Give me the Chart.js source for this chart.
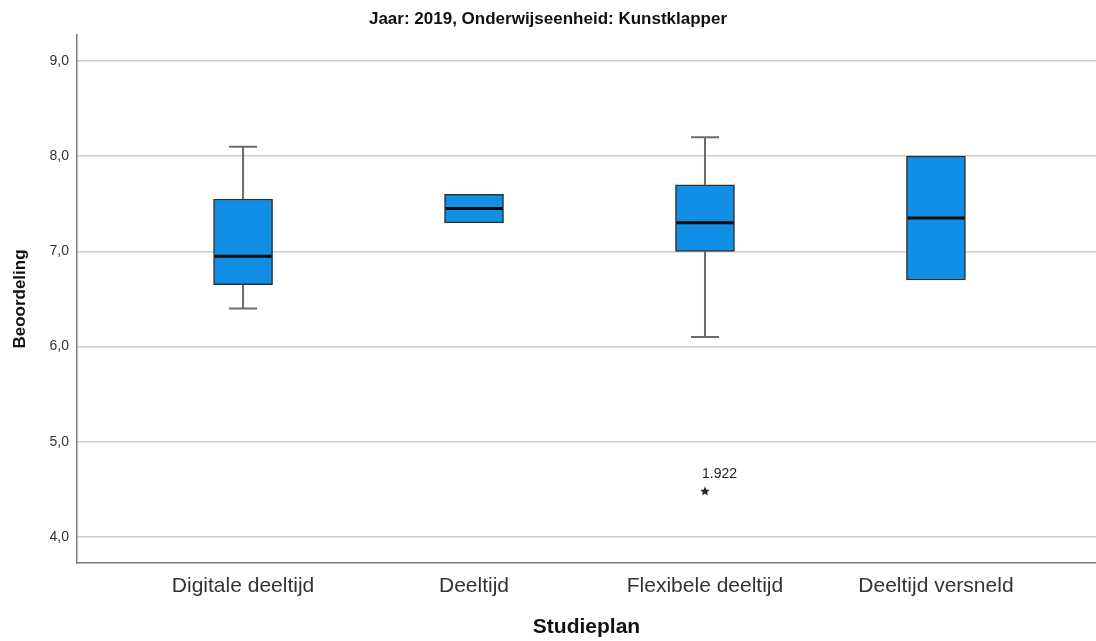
<!DOCTYPE html>
<html>
<head>
<meta charset="utf-8">
<script src="https://cdn.jsdelivr.net/npm/chart.js@4/dist/chart.umd.min.js"></script>
<style>
html,body{margin:0;padding:0;background:#fff;}
#wrap{width:1096px;height:641px;}
</style>
</head>
<body>
<div id="wrap"><canvas id="c" width="1096" height="641"></canvas></div>
<script>
// ---- data ----
const categories = ["Digitale deeltijd", "Deeltijd", "Flexibele deeltijd", "Deeltijd versneld"];
const whiskerLow = [6.4, 7.3, 6.1, 6.7];
const q1 = [6.65, 7.3, 7.0, 6.7];
const medians = [6.95, 7.45, 7.3, 7.35];
const q3 = [7.55, 7.6, 7.7, 8.0];
const whiskerHigh = [8.1, 7.6, 8.2, 8.0];
const outlierCategory = [2];
const outlierValues = [4.485];
const outlierLabels = ["1.922"];
const yTicks = [4, 5, 6, 7, 8, 9];
const chartTitle = "Jaar: 2019, Onderwijseenheid: Kunstklapper";
const yTitle = "Beoordeling";
const xTitle = "Studieplan";

const FONT = "'Liberation Sans', Arial, sans-serif";

// star point image
function makeStar(size) {
  const cv = document.createElement('canvas');
  cv.width = size; cv.height = size;
  const g = cv.getContext('2d');
  const cx = size / 2, cy = size / 2 + 0.5, R = size / 2, r = R * 0.45;
  g.beginPath();
  for (let i = 0; i < 10; i++) {
    const a = -Math.PI / 2 + i * Math.PI / 5;
    const rr = i % 2 === 0 ? R : r;
    const px = cx + rr * Math.cos(a), py = cy + rr * Math.sin(a);
    if (i === 0) g.moveTo(px, py); else g.lineTo(px, py);
  }
  g.closePath();
  g.fillStyle = '#222';
  g.fill();
  return cv;
}
const starImg = makeStar(10);

const boxData = categories.map((c, i) => ({ x: i, y: [q1[i], q3[i]] }));
const outlierData = outlierCategory.map((c, i) => ({ x: c, y: outlierValues[i] }));

const boxPlugin = {
  id: 'boxExtras',
  beforeDatasetsDraw(chart) {
    const { ctx, scales: { x, y } } = chart;
    ctx.save();
    ctx.strokeStyle = '#6b6b6b';
    ctx.lineWidth = 2;
    const capHalf = 14;
    categories.forEach((c, i) => {
      const px = x.getPixelForValue(i);
      const segs = [[whiskerHigh[i], q3[i]], [whiskerLow[i], q1[i]]];
      segs.forEach(([w, q]) => {
        if (Math.abs(w - q) < 1e-9) return;
        const pw = y.getPixelForValue(w), pq = y.getPixelForValue(q);
        ctx.beginPath();
        ctx.moveTo(px, pw); ctx.lineTo(px, pq);
        ctx.moveTo(px - capHalf, pw); ctx.lineTo(px + capHalf, pw);
        ctx.stroke();
      });
    });
    ctx.restore();
  },
  afterDatasetsDraw(chart) {
    const { ctx, scales: { x, y } } = chart;
    ctx.save();
    ctx.strokeStyle = '#0a0a0a';
    ctx.lineWidth = 3;
    const half = 28.5;
    categories.forEach((c, i) => {
      const px = x.getPixelForValue(i);
      const pm = y.getPixelForValue(medians[i]);
      ctx.beginPath();
      ctx.moveTo(px - half, pm); ctx.lineTo(px + half, pm);
      ctx.stroke();
    });
    ctx.fillStyle = '#222';
    ctx.font = "14px " + FONT;
    ctx.textAlign = 'left';
    ctx.textBaseline = 'middle';
    outlierCategory.forEach((c, i) => {
      const px = x.getPixelForValue(c);
      const py = y.getPixelForValue(outlierValues[i]);
      ctx.fillText(outlierLabels[i], px - 3, py - 17);
    });
    ctx.restore();
  }
};

new Chart(document.getElementById('c'), {
  type: 'bar',
  data: {
    datasets: [
      {
        type: 'bar',
        data: boxData,
        backgroundColor: '#118ee6',
        borderColor: '#303030',
        borderWidth: 1.5,
        borderSkipped: false,
        barThickness: 59
      },
      {
        type: 'scatter',
        data: outlierData,
        pointStyle: starImg,
        pointRadius: 5
      }
    ]
  },
  plugins: [boxPlugin],
  options: {
    responsive: false,
    animation: false,
    layout: { autoPadding: false, padding: { left: 0, right: 0, top: 0, bottom: 0 } },
    plugins: {
      legend: { display: false },
      tooltip: { enabled: false },
      title: {
        display: true,
        text: chartTitle,
        color: '#111',
        font: { family: FONT, size: 17, weight: 'bold' },
        padding: { top: 9, bottom: 5.6 }
      }
    },
    scales: {
      x: {
        type: 'linear',
        offset: false,
        min: -0.719,
        max: 3.693,
        afterBuildTicks(s) { s.ticks = categories.map((c, i) => ({ value: i })); },
        afterFit(s) { s.height = 78; },
        ticks: {
          autoSkip: false,
          maxRotation: 0,
          padding: 11,
          color: '#333',
          font: { family: FONT, size: 21 },
          callback(v) { return categories[v]; }
        },
        grid: { display: false, drawTicks: false },
        border: { display: true, color: '#7a7a7a', width: 1.5 },
        title: {
          display: true,
          text: xTitle,
          color: '#111',
          font: { family: FONT, size: 21, weight: 'bold' },
          padding: { top: 0, bottom: 1.5 }
        }
      },
      y: {
        type: 'linear',
        min: 3.727,
        max: 9.273,
        afterBuildTicks(s) { s.ticks = yTicks.map(v => ({ value: v })); },
        afterFit(s) { s.width = 77; },
        ticks: {
          padding: 8,
          color: '#333',
          font: { family: FONT, size: 14 },
          callback(v) { return v.toFixed(1).replace('.', ','); }
        },
        grid: { color: '#cccccc', lineWidth: 1.5, drawTicks: false },
        border: { display: true, color: '#7a7a7a', width: 1.5 },
        title: {
          display: true,
          text: yTitle,
          color: '#111',
          font: { family: FONT, size: 17, weight: 'bold' },
          padding: { top: 9.8, bottom: 0 }
        }
      }
    }
  }
});
</script>
</body>
</html>
